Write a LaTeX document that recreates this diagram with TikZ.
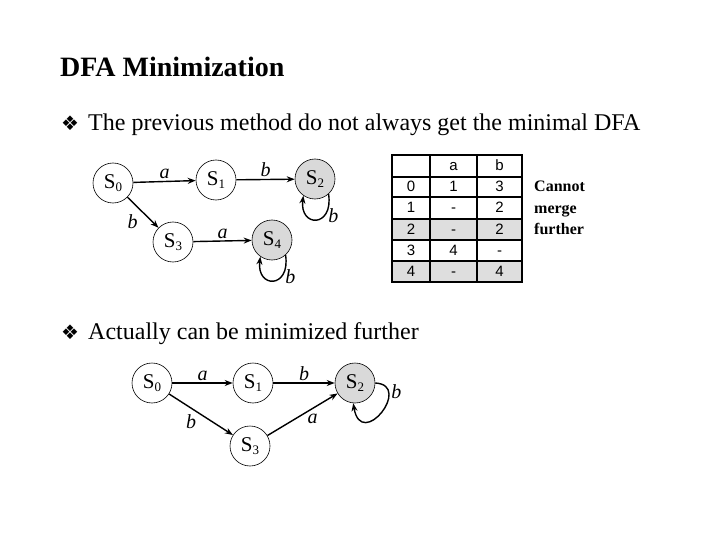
\documentclass[tikz,border=0pt]{standalone}
\usepackage{fontspec}
\setmainfont{Liberation Serif}
\newfontfamily\symfont{DejaVu Sans}
\newfontfamily\tabfont{Liberation Sans}
\usetikzlibrary{arrows.meta}
\definecolor{stategray}{RGB}{217,217,217}
\definecolor{rowgray}{RGB}{222,222,222}
\newcommand{\St}[1]{S\raisebox{-0.35ex}{\fontsize{13}{13}\selectfont #1}}
\begin{document}
\begin{tikzpicture}[x=1pt,y=-1pt,
  state/.style={circle,draw=black,line width=0.6pt,minimum size=40pt,inner sep=0pt,fill=white,font=\fontsize{21}{22}\selectfont},
  accept/.style={state,fill=stategray},
  trans/.style={line width=1.4pt,-{Stealth[length=8pt,width=6pt]}},
  lab/.style={font=\fontsize{20}{22}\selectfont\itshape,inner sep=1pt},
  txt/.style={anchor=base west,inner sep=0pt},
  bul/.style={anchor=base west,inner sep=0pt,font=\symfont\fontsize{20}{20}\selectfont},
  cell/.style={font=\tabfont\fontsize{15}{16}\selectfont,inner sep=0pt,text height=10pt,text depth=0pt},
  tline/.style={line width=1.8pt,line cap=rect}]
\useasboundingbox (0,0) rectangle (720,540);
% title and bullets
\node[txt,font=\bfseries\fontsize{28}{30}\selectfont] (title) at (60,77) {DFA Minimization};
\node[bul] (m1) at (61,131) {❖};
\node[txt,font=\fontsize{24}{26}\selectfont] (b1) at (88,131) {The previous method do not always get the minimal DFA};
\node[bul] (m2) at (61,339) {❖};
\node[txt,font=\fontsize{24}{26}\selectfont] (b2) at (88,339) {Actually can be minimized further};
% first DFA
\node[state] (s0) at (113,183) {\St{0}};
\node[state] (s1) at (216,180) {\St{1}};
\node[accept] (s2) at (315,179) {\St{2}};
\node[state] (s3) at (173,242) {\St{3}};
\node[accept] (s4) at (272,240) {\St{4}};
\draw[trans] (s0) -- node[lab,above=1pt] {a} (s1);
\draw[trans] (s1) -- node[lab,above=1pt] {b} (s2);
\draw[trans] (s0) -- node[lab,pos=0.45,below left=2pt] {b} (s3);
\draw[trans] (s3) -- node[lab,above=1pt] {a} (s4);
\draw[trans] (s2.-48) .. controls +(5,34) and +(-4,32) .. node[lab,pos=0.3,right=2pt] {b} (s2.-125);
\draw[trans] (s4.-48) .. controls +(5,34) and +(-4,32) .. node[lab,pos=0.3,right=2pt] {b} (s4.-125);
% table
\fill[rowgray] (392,219) rectangle (522,240);
\fill[rowgray] (392,261) rectangle (522,282);
\draw[tline] (392,155) rectangle (522,282);
\foreach \yy in {177,197,219,240,261} \draw[tline] (392,\yy) -- (522,\yy);
\foreach \xx in {430,477} \draw[tline] (\xx,155) -- (\xx,282);
\node[cell] (h1) at (453.5,166) {a};
\node[cell] (h2) at (499.5,166) {b};
\node[cell] (r0) at (411,187) {0};
\node[cell] (r0a) at (453.5,187) {1};
\node[cell] (r0b) at (499.5,187) {3};
\node[cell] (r1) at (411,208) {1};
\node[cell] (r1a) at (453.5,208) {-};
\node[cell] (r1b) at (499.5,208) {2};
\node[cell] (r2) at (411,229.5) {2};
\node[cell] (r2a) at (453.5,229.5) {-};
\node[cell] (r2b) at (499.5,229.5) {2};
\node[cell] (r3) at (411,250.5) {3};
\node[cell] (r3a) at (453.5,250.5) {4};
\node[cell] (r3b) at (499.5,250.5) {-};
\node[cell] (r4) at (411,271.5) {4};
\node[cell] (r4a) at (453.5,271.5) {-};
\node[cell] (r4b) at (499.5,271.5) {4};
\node[anchor=west,align=left,inner sep=0pt,font=\bfseries\fontsize{16}{21.5}\selectfont] (note) at (534,208) {Cannot\\merge\\further};
% second DFA
\node[state] (t0) at (152,383) {\St{0}};
\node[state] (t1) at (253,383) {\St{1}};
\node[accept] (t2) at (355,383) {\St{2}};
\node[state] (t3) at (250,446) {\St{3}};
\draw[trans] (t0) -- node[lab,above=1pt] {a} (t1);
\draw[trans] (t1) -- node[lab,above=1pt] {b} (t2);
\draw[trans] (t0) -- node[lab,pos=0.45,below left=0pt] {b} (t3);
\draw[trans] (t3) -- node[lab,pos=0.55,below right=0pt] {a} (t2);
\draw[trans] (t2.east) .. controls +(38,2) and +(8,48) .. node[lab,pos=0.22,right=1pt] {b} (t2.-95);
\end{tikzpicture}
\end{document}
